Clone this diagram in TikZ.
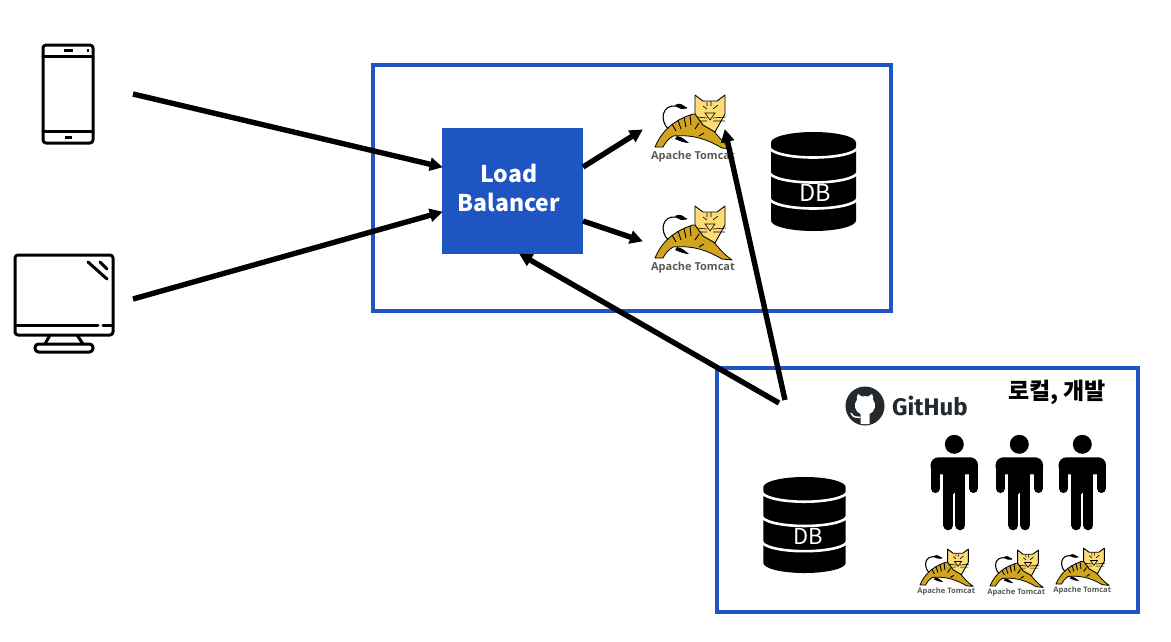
\documentclass[tikz,border=0pt]{standalone}
\usepackage{fontspec}
\setmainfont{Noto Sans CJK KR}
\newfontfamily\tomcatfont{Open Sans}
\newfontfamily\hubfont{Fira Sans}
\usetikzlibrary{arrows.meta}
\definecolor{boxblue}{HTML}{1F55C2}
\definecolor{catgold}{HTML}{D1A41F}
\definecolor{catface}{HTML}{FDDC75}
\definecolor{hubgray}{HTML}{24292E}
\tikzset{
    frame/.style={draw=boxblue, line width=3.5pt},
    lbbox/.style={fill=boxblue, minimum width=141pt, minimum height=126pt, inner sep=0pt},
    lbtext/.style={text=white, font=\bfseries\fontsize{23}{29}\selectfont, align=center},
    flow/.style={line width=5.4pt, -{Triangle[length=13pt, width=13pt]}, shorten >=-1pt},
    icon/.style={line width=3pt, line cap=round, line join=round},
    pics/tomcat/.style={code={
        \draw[line width=0.8pt, fill=catgold, line join=round] (0, 0)
            .. controls (5, -12) and (15, -26) .. (38, -33) -- (43, -33)
            .. controls (55, -25) and (60, -10) .. (77, 2)
            -- (67, 1) .. controls (55, -6) and (40, -13) .. (18, -11)
            .. controls (13, -8) and (10, -4) .. (8, 0) -- cycle;
        \draw[line width=1.1pt] (13, -18) .. controls (4, -28) and (8, -42) .. (20, -41)
            .. controls (24, -41) and (27, -39) .. (32, -39);
        \fill (20, -42) .. controls (25, -45) and (28, -42) .. (32, -39) .. controls (27, -37) and (24, -38) .. (20, -42);
        \fill (22, -11) .. controls (28, -10) and (30, -7) .. (34, -4) .. controls (29, -4) and (25, -6) .. (20, -8) -- cycle;
        \foreach \sx/\sy/\ex/\ey in {17/-23/21/-16, 23/-27/26/-18, 29/-30/31/-20, 35/-32/36/-22, 44/-24/40/-18, 49/-14/44/-11} {
            \draw[line width=0.9pt] (\sx, \sy) -- (\ex, \ey);
        }
        \draw[line width=0.9pt, fill=catface, line join=round] (40, -52) -- (48, -46) -- (62, -46) -- (70, -52)
            -- (70, -33) -- (60, -15) -- (48, -22) -- (40, -33) -- cycle;
        \draw[line width=0.6pt] (48, -41) -- (52, -38) (58, -38) -- (63, -42) (50, -34) -- (60, -34) -- (55, -27) -- cycle
            (42, -30) -- (52, -29) (58, -29) -- (71, -30) (44, -26) -- (52, -26) (58, -26) -- (70, -26)
            (52, -45) -- (52, -41) (56, -46) -- (56, -41);
        \node[text=black!65, font=\tomcatfont\bfseries\fontsize{11}{12}\selectfont, transform shape, inner sep=0pt] (-label) at (38, 9.5) {Apache Tomcat};
    }},
    pics/database/.style={code={
        \fill (-42.5, -39) arc (180:360:42.5 and 10.5) -- (42.5, 39) arc (0:180:42.5 and 10.5) -- cycle;
        \foreach \rim in {-34.5, -9.5, 16.5} {
            \draw[white, line width=2.6pt] (-44, \rim) arc (180:0:44 and 10.5);
        }
    }},
    pics/person/.style={code={
        \fill (0, 0) circle (9.5);
        \fill[rounded corners=8pt] (-23.8, 13) rectangle (23.8, 30);
        \draw[line width=9.5pt, line cap=round] (-19, 22) -- (-19, 44) (19, 22) -- (19, 44);
        \fill (-11, 15) rectangle (11, 50);
        \draw[line width=10pt, line cap=round] (-6, 45) -- (-6, 81) (6, 45) -- (6, 81);
        \draw[white, line width=1pt] (0, 49) -- (0, 87);
    }}
}

\begin{document}
\begin{tikzpicture}[x=1pt, y=-1pt]
    \useasboundingbox (0, 0) rectangle (1171, 641);

    \draw[frame] (373, 65) rectangle (891, 311);
    \draw[frame] (717, 368) rectangle (1138, 612);

    \draw[icon, rounded corners=3pt] (43, 45) rectangle (93, 143);
    \draw[icon] (43, 56) -- (93, 56) (43, 131) -- (93, 131);
    \draw[icon, line cap=butt] (64, 50.7) -- (73, 50.7) (86.5, 50.7) -- (89, 50.7) (65, 137) -- (72, 137);

    \draw[icon, rounded corners=3pt] (15, 255) rectangle (113, 335);
    \draw[icon] (15, 325) -- (98, 325) (103, 325) -- (113, 325);
    \draw[icon] (88, 262) -- (107, 279) (100, 262) -- (107, 269);
    \draw[icon] (50, 335) -- (45, 344) (77, 335) -- (83, 344);
    \draw[icon, rounded corners=3.5pt] (35, 344) rectangle (93, 352);

    \node[lbbox] (lb) at (512.5, 191) {};
    \node[lbtext] (lbname) at (509, 188) {Load\\Balancer};

    \pic (tomcatA) at (655, 147) {tomcat};
    \pic (tomcatB) at (655, 258) {tomcat};
    \pic[scale=0.69] (tomcatC) at (920, 585) {tomcat};
    \pic[scale=0.69] (tomcatD) at (990, 586) {tomcat};
    \pic[scale=0.69] (tomcatE) at (1056, 584) {tomcat};

    \pic at (813.5, 181.5) {database};
    \node[text=white, font=\fontsize{23.5}{24}\selectfont] (dbname) at (815.5, 193) {DB};
    \pic[scale=0.97] at (804.5, 525) {database};
    \node[text=white, font=\fontsize{22}{22}\selectfont] (devdbname) at (808, 536) {DB};

    \pic at (954.3, 444.3) {person};
    \pic at (1019.3, 444.3) {person};
    \pic at (1082.3, 444.3) {person};

    \fill[hubgray] (865, 406) circle (19.5);
    \fill[white] (858, 394) -- (862, 396.5) .. controls (864, 396) and (866, 396) .. (868, 396.5)
        -- (872, 394) .. controls (873.5, 397) and (873.5, 398) .. (873, 399.5)
        .. controls (877, 404) and (875, 412) .. (869.5, 414) -- (869.5, 424) -- (860.5, 424) -- (860.5, 414)
        .. controls (855, 412) and (853, 404) .. (857, 399.5) .. controls (856.5, 398) and (856.5, 397) .. (858, 394) -- cycle;
    \draw[white, line width=1.5pt] (851, 413) .. controls (853, 418) and (857, 417) .. (860.5, 417.5);
    \node[text=hubgray, font=\hubfont\bfseries\fontsize{24}{24}\selectfont, inner sep=0pt] (hubname) at (930, 406) {GitHub};
    \node[font=\bfseries\fontsize{23}{24}\selectfont, inner sep=0pt] (devname) at (1057, 392) {로컬, 개발};

    \coordinate (phoneout) at (133, 94);
    \coordinate (monitorout) at (133, 299);
    \coordinate (devoutA) at (779, 403);
    \coordinate (devoutB) at (785, 400);
    \coordinate (lbupper) at (583, 167);
    \coordinate (lblower) at (583, 221);
    \coordinate (tomcatAin) at (642, 130);
    \coordinate (tomcatBin) at (642, 241);
    \coordinate (tomcatAup) at (725, 130);
    \draw[flow] (phoneout) -- (lb.west |- 0, 167);
    \draw[flow] (monitorout) -- (lb.west |- 0, 212);
    \draw[flow] (lbupper) -- (tomcatAin);
    \draw[flow] (lblower) -- (tomcatBin);
    \draw[flow] (devoutA) -- (lb.south west -| 520, 0);
    \draw[flow] (devoutB) -- (tomcatAup);
\end{tikzpicture}
\end{document}
